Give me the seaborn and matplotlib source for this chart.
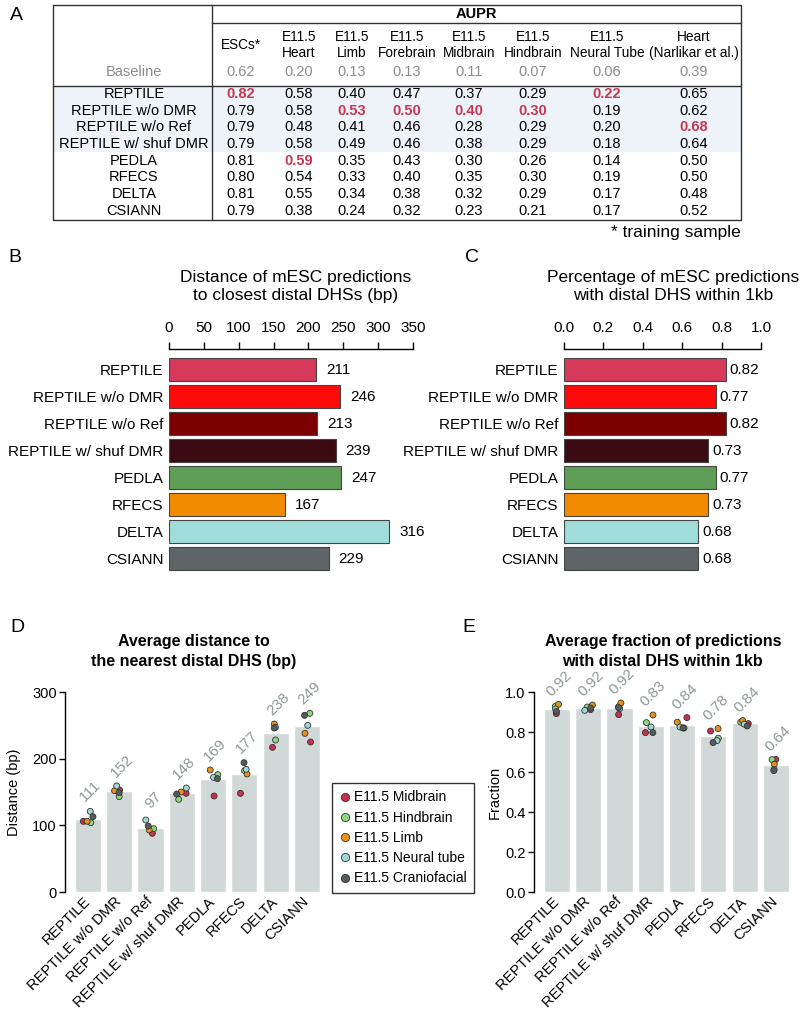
import numpy as np
import pandas as pd
import matplotlib
matplotlib.use("Agg")
import matplotlib.pyplot as plt
import seaborn as sns
from matplotlib.patches import Rectangle
from matplotlib.lines import Line2D

# ---- data ----
methods = ["REPTILE", "REPTILE w/o DMR", "REPTILE w/o Ref", "REPTILE w/ shuf DMR",
           "PEDLA", "RFECS", "DELTA", "CSIANN"]
method_colors = ["#d6395a", "#ff0a0a", "#7d0000", "#3c0a12",
                 "#5f9e56", "#f28b00", "#9fdcda", "#5e6566"]

# panel A: AUPR table
aupr_cols = ["ESCs*", "E11.5\nHeart", "E11.5\nLimb", "E11.5\nForebrain", "E11.5\nMidbrain",
             "E11.5\nHindbrain", "E11.5\nNeural Tube", "Heart\n(Narlikar et al.)"]
baseline = [0.62, 0.20, 0.13, 0.13, 0.11, 0.07, 0.06, 0.39]
aupr_values = [
    [0.82, 0.58, 0.40, 0.47, 0.37, 0.29, 0.22, 0.65],
    [0.79, 0.58, 0.53, 0.50, 0.40, 0.30, 0.19, 0.62],
    [0.79, 0.48, 0.41, 0.46, 0.28, 0.29, 0.20, 0.68],
    [0.79, 0.58, 0.49, 0.46, 0.38, 0.29, 0.18, 0.64],
    [0.81, 0.59, 0.35, 0.43, 0.30, 0.26, 0.14, 0.50],
    [0.80, 0.54, 0.33, 0.40, 0.35, 0.30, 0.19, 0.50],
    [0.81, 0.55, 0.34, 0.38, 0.32, 0.29, 0.17, 0.48],
    [0.79, 0.38, 0.24, 0.32, 0.23, 0.21, 0.17, 0.52],
]

# panel B / C
dist_vals = [211, 246, 213, 239, 247, 167, 316, 229]
pct_vals = [0.82, 0.77, 0.82, 0.73, 0.77, 0.73, 0.68, 0.68]

# panel D / E (per tissue, per method)
tissues = ["E11.5 Midbrain", "E11.5 Hindbrain", "E11.5 Limb", "E11.5 Neural tube", "E11.5 Craniofacial"]
tissue_colors = ["#c8304f", "#8fd67e", "#e8901c", "#9dd6d6", "#555c5c"]

dist_mid = [106, 153, 88, 148, 144, 148, 217, 225]
dist_hind = [104, 143, 95, 139, 176, 182, 228, 268]
dist_limb = [106, 152, 93, 150, 183, 177, 252, 238]
dist_neur = [121, 159, 108, 156, 172, 184, 247, 250]
dist_cran = [113, 149, 99, 147, 170, 194, 246, 265]
dist_labels = [111, 152, 97, 148, 169, 177, 238, 249]

frac_mid = [0.892, 0.912, 0.887, 0.797, 0.872, 0.805, 0.842, 0.663]
frac_hind = [0.928, 0.925, 0.927, 0.847, 0.820, 0.769, 0.849, 0.662]
frac_limb = [0.938, 0.935, 0.945, 0.885, 0.849, 0.817, 0.857, 0.639]
frac_neur = [0.915, 0.908, 0.917, 0.825, 0.825, 0.757, 0.839, 0.612]
frac_cran = [0.903, 0.920, 0.922, 0.797, 0.820, 0.747, 0.830, 0.607]
frac_labels = ["0.92", "0.92", "0.92", "0.83", "0.84", "0.78", "0.84", "0.64"]

dfD = pd.DataFrame({"method": np.tile(methods, 5), "tissue": np.repeat(tissues, 8),
                    "dist": np.concatenate([dist_mid, dist_hind, dist_limb, dist_neur, dist_cran])})
dfE = pd.DataFrame({"method": np.tile(methods, 5), "tissue": np.repeat(tissues, 8),
                    "frac": np.concatenate([frac_mid, frac_hind, frac_limb, frac_neur, frac_cran])})

sns.set_theme(style="white", rc={"text.color": "black", "axes.labelcolor": "black",
                                 "xtick.color": "black", "ytick.color": "black",
                                 "axes.edgecolor": "black"})
plt.rcParams["font.family"] = ["Liberation Sans", "DejaVu Sans"]

W, H = 800, 1010
fig = plt.figure(figsize=(W / 100, H / 100), dpi=100)


def box(l, t, r, b):
    return fig.add_axes([l / W, 1 - b / H, (r - l) / W, (b - t) / H])


def ftext(x, y, s, **kw):
    fig.text(x / W, 1 - y / H, s, **kw)


# ---- panel A: table ----
tab = fig.add_axes([0, 0, 1, 1], zorder=0)
tab.set_xlim(0, W)
tab.set_ylim(H, 0)
tab.axis("off")
L, M, R = 53, 212, 741
top, aupr_line, base_line, bot = 5, 23.3, 86, 220
tab.add_patch(Rectangle((L, base_line), R - L, 151.7 - base_line, color="#edf3f9", lw=0))
lc = "#333333"
tab.plot([L, R, R, L, L], [top, top, bot, bot, top], color=lc, lw=1)
tab.plot([M, M], [top, bot], color=lc, lw=1)
tab.plot([M, R], [aupr_line, aupr_line], color=lc, lw=1)
tab.plot([L, R], [base_line, base_line], color=lc, lw=1)
tab.text((M + R) / 2, 14, "AUPR", ha="center", va="center", fontsize=10.5, fontweight="bold")

col_x = [241, 299, 352, 407, 469, 533, 607, 694]
label_x = 134
for cx, name in zip(col_x, aupr_cols):
    tab.text(cx, 45, name, ha="center", va="center", fontsize=9.8, linespacing=1.15)
grey = "#8c8c8c"
tab.text(label_x, 72.5, "Baseline", ha="center", va="center", fontsize=10.5, color=grey)
for cx, v in zip(col_x, baseline):
    tab.text(cx, 72.5, f"{v:.2f}", ha="center", va="center", fontsize=10.5, color=grey)

vals = np.array(aupr_values)
best = vals.argmax(axis=0)
for i, (m, row) in enumerate(zip(methods, aupr_values)):
    y = 94 + i * 16.67
    tab.text(label_x, y, m, ha="center", va="center", fontsize=10.5)
    for j, (cx, v) in enumerate(zip(col_x, row)):
        hi = best[j] == i
        tab.text(cx, y, f"{v:.2f}", ha="center", va="center", fontsize=10.5,
                 color="#c8374f" if hi else "black", fontweight="bold" if hi else "normal")
tab.text(R, 233, "* training sample", ha="right", va="center", fontsize=12.5)

# ---- panel B / C ----
def hbar(ax, values, xmax, ticks, fmt, off):
    sns.barplot(x=values, y=methods, hue=methods, palette=method_colors, legend=False,
                orient="h", width=0.84, saturation=1, edgecolor="#444444", linewidth=0.8, ax=ax)
    ax.set_xlim(0, xmax)
    ax.set_ylim(7.5, -0.76)
    ax.xaxis.tick_top()
    ax.set_xticks(ticks)
    ax.set_xticklabels([fmt(t) for t in ticks])
    for s in ["left", "right", "bottom"]:
        ax.spines[s].set_visible(False)
    ax.spines["top"].set_linewidth(1)
    ax.tick_params(axis="x", top=True, bottom=False, direction="out", length=5, width=1,
                   pad=5, labelsize=11)
    ax.tick_params(axis="y", length=0, pad=4, labelsize=11)
    ax.set_xlabel("")
    ax.set_ylabel("")
    for i, v in enumerate(values):
        ax.annotate(fmt(v), (v, i), xytext=(off, 0), textcoords="offset points",
                    va="center", ha="left", fontsize=11)


axB = box(169, 349, 413, 572)
hbar(axB, dist_vals, 350, list(range(0, 351, 50)), lambda t: f"{t:g}", 7)
axC = box(564, 349, 761, 572)
hbar(axC, pct_vals, 1.0, [0.0, 0.2, 0.4, 0.6, 0.8, 1.0],
     lambda t: f"{t:.1f}" if round(t * 10) == t * 10 else f"{t:.2f}", 3)

ftext(296, 286.5, "Distance of mESC predictions\nto closest distal DHSs (bp)",
      ha="center", va="center", fontsize=12.5)
ftext(673, 286.5, "Percentage of mESC predictions\nwith distal DHS within 1kb",
      ha="center", va="center", fontsize=12.5)

# ---- panel D / E ----
np.random.seed(7)


def dotbar(ax, df, col, ymax, yticks, labels, off, ylabel, title, tfmt, lx):
    sns.barplot(data=df, x="method", y=col, color="#d0d8d8", saturation=1, errorbar=None,
                width=0.84, ax=ax)
    sns.stripplot(data=df, x="method", y=col, hue="tissue", palette=tissue_colors, jitter=0.17,
                  size=4.3, edgecolor="#333333", linewidth=0.6, legend=False, ax=ax, zorder=3)
    ax.set_xlim(-0.73, 7.5)
    ax.set_ylim(0, ymax)
    ax.set_yticks(yticks)
    ax.set_yticklabels([tfmt(t) for t in yticks])
    sns.despine(ax=ax, bottom=True)
    ax.spines["left"].set_bounds(0, ymax)
    ax.spines["left"].set_linewidth(1)
    ax.tick_params(axis="y", left=True, length=4, width=1, pad=2, labelsize=10.5)
    ax.tick_params(axis="x", length=0, pad=5, labelsize=10.5)
    for lab in ax.get_xticklabels():
        lab.set_rotation(45)
        lab.set_ha("right")
        lab.set_va("center")
        lab.set_rotation_mode("anchor")
    ax.set_xlabel("")
    ax.set_ylabel(ylabel, fontsize=10.5)
    ax.yaxis.set_label_coords(lx, 0.5)
    tops = df.groupby("method", sort=False)[col].max().reindex(methods).values
    for i, (t, s) in enumerate(zip(tops, labels)):
        ax.text(i + 0.08, t + off, str(s), rotation=45, ha="center", va="center",
                rotation_mode="anchor", color="#8e9899", fontsize=11, clip_on=False)
    ax.set_title(title, fontsize=11.5, fontweight="bold", pad=19, linespacing=1.4)


axD = box(65, 692, 322.6, 892)
dotbar(axD, dfD, "dist", 300, [0, 100, 200, 300], dist_labels, 30, "Distance (bp)",
       "Average distance to\nthe nearest distal DHS (bp)", lambda t: f"{t:d}", -0.17)
axE = box(534, 692, 791.6, 892)
dotbar(axE, dfE, "frac", 1.0, [0.0, 0.2, 0.4, 0.6, 0.8, 1.0], frac_labels, 0.105, "Fraction",
       "Average fraction of predictions\nwith distal DHS within 1kb", lambda t: f"{t:.1f}", -0.124)

handles = [Line2D([], [], marker="o", ls="", mfc=c, mec="#333333", mew=0.6, ms=6)
           for c in tissue_colors]
axD.legend(handles=handles, labels=tissues, loc="lower left",
           bbox_to_anchor=(332 / W, 1 - 893 / H), bbox_transform=fig.transFigure,
           frameon=True, fancybox=False, edgecolor="black", fontsize=10,
           handlelength=0.7, handletextpad=0.3, labelspacing=0.45, borderpad=0.55,
           borderaxespad=0).get_frame().set_linewidth(1)

# panel letters
for letter, (x, y) in {"A": (16, 15), "B": (15, 258), "C": (472, 258),
                       "D": (17, 627), "E": (469, 627)}.items():
    ftext(x, y, letter, ha="center", va="center", fontsize=14)

fig.savefig("out.png", dpi=100)
